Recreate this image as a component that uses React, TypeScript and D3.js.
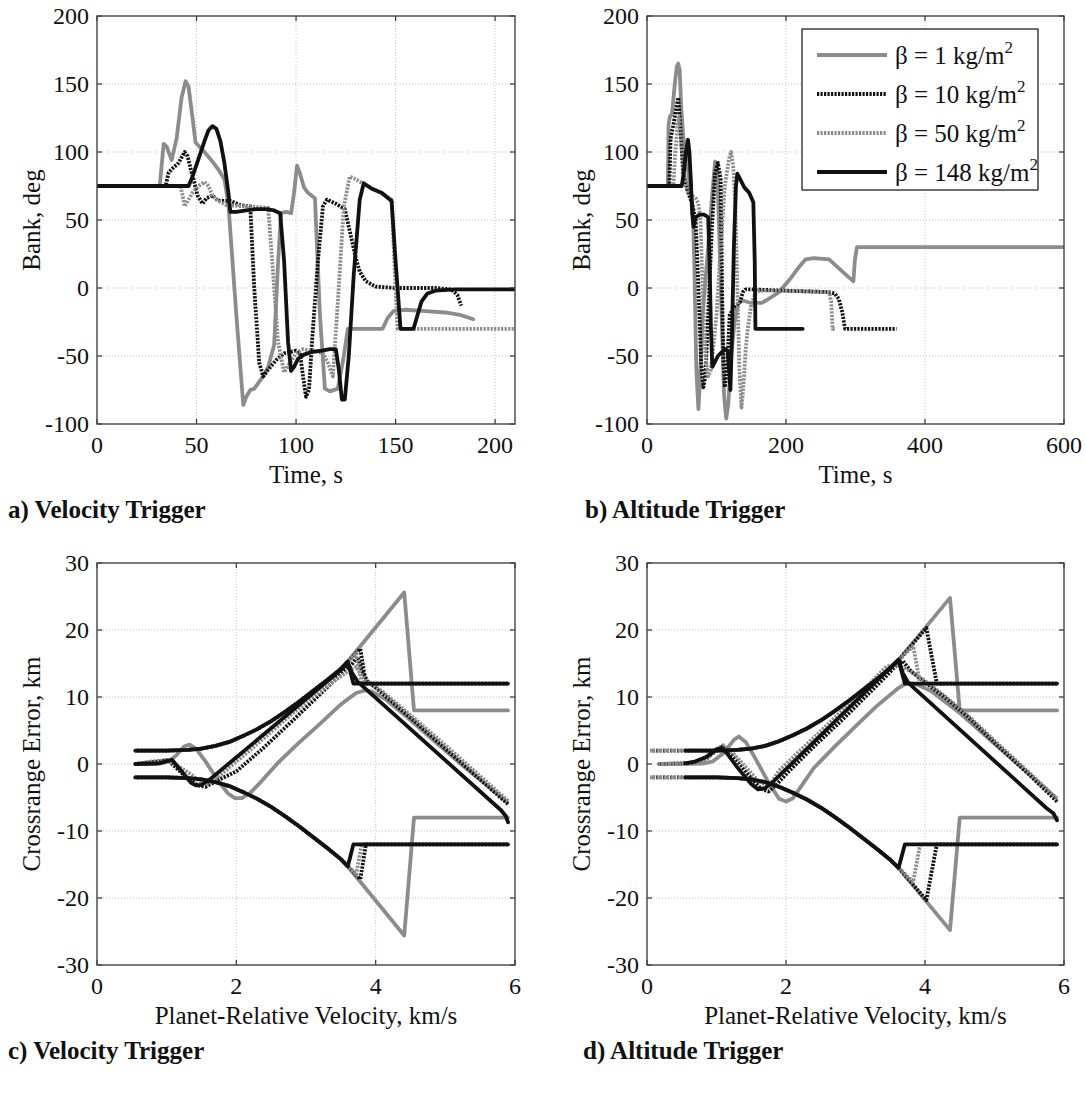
import React from 'react';
import * as d3 from 'd3';

type Pt = [number, number];

// ---------- Bank angle histories, velocity trigger (time s, bank deg) ----------
const velBank1: Pt[] = [[0,75],[31.5,75],[33.5,106],[35,104],[37.5,94],[40,110],[42.5,140],[44.5,152],[46,148],[48,125],[49.5,107],[54,100],[58.5,92],[61,87],[64,80],[66,62],[70,-20],[73.5,-86],[75,-80],[77,-75],[79,-74],[81,-70],[83.5,-65],[86,-58],[89,-42],[91,20],[92.5,55],[95,56],[97.5,55],[99,70],[100.5,90],[102,84],[104,74],[106,70],[109.5,66],[112,-20],[114.5,-74],[117,-76],[121,-74],[124,-50],[126,-30],[143.5,-30],[146,-22],[149,-17],[155,-16],[165,-17],[175,-18],[183,-20],[189,-23]];
const velBank10: Pt[] = [[0,75],[34.5,75],[36,85],[38,88],[41,92],[44,100],[45.5,97],[47,88],[48.5,80],[50.5,68],[53,62],[55,66],[58,68],[61,64],[64,64],[67,64],[72,61],[77,60],[79,0],[81.5,-55],[83.5,-65],[86,-60],[90,-53],[94,-48],[97,-47],[100,-46],[102,-48],[103.5,-65],[105,-80],[106.5,-75],[108,-40],[111,20],[113.5,60],[115.5,65],[120,62],[124.5,58],[126.5,45],[128.5,32],[130,22],[132,12],[135,5],[140,1],[150,0],[170,0],[178,-1],[181,-5],[183,-13]];
const velBank50: Pt[] = [[0,75],[42,75],[43,68],[44,60],[46,65],[48,70],[51,75],[54,78],[56,75],[58,68],[61,64],[65,61],[75,60],[86,59],[88,20],[91,-40],[94,-62],[97,-55],[100,-48],[103.5,-45],[108,-46],[113.5,-48],[116,-55],[118.5,-65],[121,-10],[124,60],[127,82],[130,80],[133.5,77],[140,72],[148,65],[150,0],[151,-30],[210,-30]];
const velBank148: Pt[] = [[0,75],[46,75],[48,82],[51,95],[54,108],[56,116],[58,119],[60,117],[62,108],[64,92],[66,70],[67,56],[70,56],[75,57],[80,58],[85,58],[89,57],[92,55],[94,20],[96,-40],[97.5,-61],[99,-58],[101,-52],[104,-49],[108,-47],[113,-46],[117,-45],[120,-45],[121.5,-60],[123,-82],[124.5,-82],[126.5,-50],[129,10],[132,65],[134,77],[138,73],[143,70],[148,64],[150,20],[152.5,-30],[159,-30],[161,-20],[163,-10],[166,-4],[170,-2],[180,-1],[210,-1]];

// ---------- Bank angle histories, altitude trigger ----------
const altBank1: Pt[] = [[0,75],[30,75],[31,120],[33,126],[36,128],[40,150],[43,163],[45,165],[47,160],[49,135],[52,112],[57,95],[62,75],[66,58],[68,20],[71,-60],[74,-89],[76,-70],[80,-20],[88,30],[94,70],[98,93],[101,88],[104,40],[108,-30],[111,-80],[114,-96],[117,-85],[121,-50],[126,-25],[131,-12],[136,-9],[150,-11],[165,-11],[172,-9],[190,-3],[205,6],[218,15],[228,21],[240,22],[262,21],[275,15],[290,8],[297,5],[299,20],[302,30],[600,30]];
const altBank10: Pt[] = [[0,75],[32,75],[34,110],[38,120],[42,132],[45,140],[48,118],[52,85],[58,72],[65,62],[70,50],[74,0],[78,-55],[81,-73],[84,-65],[88,-20],[93,40],[98,85],[102,92],[106,80],[108,0],[110,-55],[112,-73],[115,-60],[119,-20],[124,-15],[130,-12],[134,-10],[138,-3],[142,-1],[150,-1],[200,-2],[262,-3],[270,-4],[276,-8],[281,-18],[285,-30],[359,-30]];
const altBank50: Pt[] = [[0,75],[38,75],[40,95],[44,120],[46,125],[49,110],[53,85],[58,72],[64,68],[70,66],[74,62],[77,50],[80,0],[84,-50],[88,-65],[92,-60],[96,-40],[100,-20],[106,30],[112,75],[118,95],[121,100],[124,90],[127,60],[130,0],[133,-60],[136,-88],[139,-70],[142,-45],[145,-30],[150,-12],[156,-4],[162,-2],[200,-2],[262,-3],[265,-10],[267,-30],[272,-30]];
const altBank148: Pt[] = [[0,75],[50,75],[53,85],[56,100],[59,109],[61,100],[63,80],[65,55],[67,45],[70,52],[76,54],[82,54],[88,52],[90,20],[92,-30],[94,-58],[97,-55],[102,-50],[108,-47],[113,-45],[116,-46],[118,-60],[120,-75],[122,-40],[125,30],[128,75],[130,84],[134,80],[140,74],[147,70],[153,63],[155,20],[156,-30],[224,-30]];

// ---------- Crossrange vs velocity, velocity trigger (km/s, km) ----------
const velUp1: Pt[] = [[5.9,8],[4.55,8],[4.41,25.6],[3.6,15.3],[3.5,14.2],[3.3,12.5],[3.1,10.9],[2.9,9.3],[2.7,7.8],[2.5,6.4],[2.3,5.2],[2.1,4.2],[1.9,3.3],[1.7,2.7],[1.5,2.3],[1.3,2.1],[1.0,2.0],[0.55,2]];
const velLo1: Pt[] = [[5.9,-8],[4.55,-8],[4.41,-25.6],[3.6,-15.3],[3.5,-14.2],[3.3,-12.5],[3.1,-10.9],[2.9,-9.3],[2.7,-7.8],[2.5,-6.4],[2.3,-5.2],[2.1,-4.2],[1.9,-3.3],[1.7,-2.7],[1.5,-2.3],[1.3,-2.1],[1.0,-2.0],[0.55,-2]];
const velCr1: Pt[] = [[5.88,-5.6],[5.6,-3.2],[5.2,0.2],[4.8,3.8],[4.45,7],[4.15,9.6],[3.95,10.8],[3.85,11],[3.72,10.6],[3.5,8.9],[3.2,6],[2.9,3.2],[2.6,0.2],[2.35,-2.7],[2.2,-4.3],[2.08,-5.1],[1.98,-5.1],[1.88,-4.4],[1.72,-2.2],[1.55,0.5],[1.42,2.3],[1.33,2.9],[1.25,2.6],[1.15,1.4],[1.02,0.3],[0.85,0],[0.55,0]];
const velUp10: Pt[] = [[5.9,12],[3.86,12],[3.78,17.2],[3.6,15.3],[3.5,14.2],[3.3,12.5],[3.1,10.9],[2.9,9.3],[2.7,7.8],[2.5,6.4],[2.3,5.2],[2.1,4.2],[1.9,3.3],[1.7,2.7],[1.5,2.3],[1.3,2.1],[1.0,2.0],[0.55,2]];
const velLo10: Pt[] = [[5.9,-12],[3.86,-12],[3.78,-17.2],[3.6,-15.3],[3.5,-14.2],[3.3,-12.5],[3.1,-10.9],[2.9,-9.3],[2.7,-7.8],[2.5,-6.4],[2.3,-5.2],[2.1,-4.2],[1.9,-3.3],[1.7,-2.7],[1.5,-2.3],[1.3,-2.1],[1.0,-2.0],[0.55,-2]];
const velCr10: Pt[] = [[5.9,-6],[5.5,-2.3],[5.0,2.3],[4.5,6.9],[4.1,10.5],[3.88,12.4],[3.8,14],[3.74,16],[3.66,14.9],[3.5,13.4],[3.2,10.4],[2.8,6.4],[2.4,2.5],[2.0,-1.1],[1.72,-2.5],[1.56,-3.4],[1.45,-3.2],[1.3,-2.2],[1.12,-0.4],[1.02,0.6],[0.9,0.4],[0.55,0]];
const velUp50: Pt[] = [[5.9,12],[3.8,12],[3.72,16.5],[3.6,15.3],[3.5,14.2],[3.3,12.5],[3.1,10.9],[2.9,9.3],[2.7,7.8],[2.5,6.4],[2.3,5.2],[2.1,4.2],[1.9,3.3],[1.7,2.7],[1.5,2.3],[1.3,2.1],[1.0,2.0],[0.55,2]];
const velLo50: Pt[] = [[5.9,-12],[3.8,-12],[3.72,-16.5],[3.6,-15.3],[3.5,-14.2],[3.3,-12.5],[3.1,-10.9],[2.9,-9.3],[2.7,-7.8],[2.5,-6.4],[2.3,-5.2],[2.1,-4.2],[1.9,-3.3],[1.7,-2.7],[1.5,-2.3],[1.3,-2.1],[1.0,-2.0],[0.55,-2]];
const velCr50: Pt[] = [[5.9,-5.5],[5.5,-1.8],[5.0,2.8],[4.5,7.3],[4.1,10.8],[3.85,12.5],[3.72,14.5],[3.6,13.8],[3.3,11.6],[3.0,9.2],[2.6,5.7],[2.2,2.1],[1.9,-0.5],[1.7,-2.3],[1.58,-3.0],[1.48,-2.6],[1.3,-1.2],[1.15,-0.2],[1.0,0.6],[0.8,0.4],[0.55,0]];
const velUp148: Pt[] = [[5.9,12],[3.68,12],[3.6,15.3],[3.5,14.2],[3.3,12.5],[3.1,10.9],[2.9,9.3],[2.7,7.8],[2.5,6.4],[2.3,5.2],[2.1,4.2],[1.9,3.3],[1.7,2.7],[1.5,2.3],[1.3,2.1],[1.0,2.0],[0.55,2]];
const velLo148: Pt[] = [[5.9,-12],[3.68,-12],[3.6,-15.3],[3.5,-14.2],[3.3,-12.5],[3.1,-10.9],[2.9,-9.3],[2.7,-7.8],[2.5,-6.4],[2.3,-5.2],[2.1,-4.2],[1.9,-3.3],[1.7,-2.7],[1.5,-2.3],[1.3,-2.1],[1.0,-2.0],[0.55,-2]];
const velCr148: Pt[] = [[5.9,-8.7],[5.87,-7.8],[5.8,-6.9],[3.74,12.3],[3.66,13.6],[3.6,15.1],[3.52,14.2],[1.62,-2.3],[1.5,-3.1],[1.42,-3.2],[1.35,-2.8],[1.08,0.6],[1.02,0.5],[0.9,0.1],[0.55,0]];

// ---------- Crossrange vs velocity, altitude trigger ----------
const altUp1: Pt[] = [[5.9,8],[4.5,8],[4.36,24.8],[3.62,15.5],[3.5,14.3],[3.3,12.6],[3.1,11],[2.9,9.4],[2.7,7.9],[2.5,6.5],[2.3,5.3],[2.1,4.3],[1.9,3.4],[1.7,2.7],[1.5,2.3],[1.3,2.1],[1.0,2.0],[0.55,2]];
const altLo1: Pt[] = [[5.9,-8],[4.5,-8],[4.36,-24.8],[3.62,-15.5],[3.5,-14.3],[3.3,-12.6],[3.1,-11],[2.9,-9.4],[2.7,-7.9],[2.5,-6.5],[2.3,-5.3],[2.1,-4.3],[1.9,-3.4],[1.7,-2.7],[1.5,-2.3],[1.3,-2.1],[1.0,-2.0],[0.55,-2]];
const altCr1: Pt[] = [[5.88,-5],[5.5,-1.5],[5.0,3],[4.5,7.6],[4.1,10.8],[3.88,11.9],[3.74,12.1],[3.6,11.2],[3.3,8.6],[3.0,5.6],[2.7,2.6],[2.4,-0.6],[2.2,-3.6],[2.1,-5.1],[2.0,-5.6],[1.9,-5.2],[1.75,-2.8],[1.55,1],[1.42,3.3],[1.32,4.1],[1.25,3.6],[1.1,1.6],[0.95,0.4],[0.8,0.05],[0.17,0]];
const altUp10: Pt[] = [[5.9,12],[4.17,12],[4.02,20.3],[3.62,15.5],[3.5,14.3],[3.3,12.6],[3.1,11],[2.9,9.4],[2.7,7.9],[2.5,6.5],[2.3,5.3],[2.1,4.3],[1.9,3.4],[1.7,2.7],[1.5,2.3],[1.3,2.1],[1.0,2.0],[0.05,2]];
const altLo10: Pt[] = [[5.9,-12],[4.17,-12],[4.02,-20.3],[3.62,-15.5],[3.5,-14.3],[3.3,-12.6],[3.1,-11],[2.9,-9.4],[2.7,-7.9],[2.5,-6.5],[2.3,-5.3],[2.1,-4.3],[1.9,-3.4],[1.7,-2.7],[1.5,-2.3],[1.3,-2.1],[1.0,-2.0],[0.05,-2]];
const altCr10: Pt[] = [[5.9,-5.6],[5.5,-1.6],[5.0,3.2],[4.6,7.2],[4.3,9.8],[4.0,12.2],[3.8,13.8],[3.68,15.4],[3.6,14.9],[3.45,13.2],[3.2,10.6],[2.8,6.5],[2.4,2.6],[2.05,-1],[1.85,-3.2],[1.75,-4.1],[1.64,-3.7],[1.45,-1.5],[1.3,0.5],[1.15,2.2],[1.08,2.6],[1.0,2.0],[0.85,0.8],[0.65,0.15],[0.17,0]];
const altUp50: Pt[] = [[5.9,12],[3.93,12],[3.83,17.6],[3.62,15.5],[3.5,14.3],[3.3,12.6],[3.1,11],[2.9,9.4],[2.7,7.9],[2.5,6.5],[2.3,5.3],[2.1,4.3],[1.9,3.4],[1.7,2.7],[1.5,2.3],[1.3,2.1],[1.0,2.0],[0.05,2]];
const altLo50: Pt[] = [[5.9,-12],[3.93,-12],[3.83,-17.6],[3.62,-15.5],[3.5,-14.3],[3.3,-12.6],[3.1,-11],[2.9,-9.4],[2.7,-7.9],[2.5,-6.5],[2.3,-5.3],[2.1,-4.3],[1.9,-3.4],[1.7,-2.7],[1.5,-2.3],[1.3,-2.1],[1.0,-2.0],[0.05,-2]];
const altCr50: Pt[] = [[5.9,-5.2],[5.5,-1.3],[5.0,3.5],[4.6,7.4],[4.3,10],[4.0,12.4],[3.8,13.8],[3.6,14.8],[3.45,14.6],[3.3,13],[3.0,10],[2.6,5.9],[2.2,2],[1.9,-1],[1.8,-2.6],[1.72,-3.2],[1.6,-2.5],[1.45,-0.8],[1.25,1.5],[1.1,2.8],[1.0,2.2],[0.85,0.6],[0.6,0],[0.17,0]];
const altUp148: Pt[] = [[5.9,12],[3.71,12],[3.62,15.5],[3.5,14.3],[3.3,12.6],[3.1,11],[2.9,9.4],[2.7,7.9],[2.5,6.5],[2.3,5.3],[2.1,4.3],[1.9,3.4],[1.7,2.7],[1.5,2.3],[1.3,2.1],[1.0,2.0],[0.55,2]];
const altLo148: Pt[] = [[5.9,-12],[3.71,-12],[3.62,-15.5],[3.5,-14.3],[3.3,-12.6],[3.1,-11],[2.9,-9.4],[2.7,-7.9],[2.5,-6.5],[2.3,-5.3],[2.1,-4.3],[1.9,-3.4],[1.7,-2.7],[1.5,-2.3],[1.3,-2.1],[1.0,-2.0],[0.55,-2]];
const altCr148: Pt[] = [[5.9,-8.4],[5.85,-7.4],[5.75,-6.6],[3.76,12.1],[3.68,13.6],[3.62,15.6],[3.5,14.4],[1.8,-2.8],[1.7,-3.6],[1.6,-3.8],[1.5,-3.0],[1.3,-0.5],[1.15,1.6],[1.08,2.4],[1.0,2.2],[0.86,1.1],[0.7,0.4],[0.55,0.1]];

// ---------- Axes ticks and labels ----------
const bankTicks = [-100, -50, 0, 50, 100, 150, 200];
const velTimeTicks = [0, 50, 100, 150, 200];
const altTimeTicks = [0, 200, 400, 600];
const speedTicks = [0, 2, 4, 6];
const crossTicks = [-30, -20, -10, 0, 10, 20, 30];
const betaLabels = ['1', '10', '50', '148'];
const captions = ['a) Velocity Trigger', 'b) Altitude Trigger', 'c) Velocity Trigger', 'd) Altitude Trigger'];

const FONT = "'Liberation Serif', 'Times New Roman', Times, serif";
const GRAY = '#8c8c8c';
const BLACK = '#111111';
const DOTS = '2.2,1.3';
const LW = 3.8;

const styles = [
  { stroke: GRAY, dash: undefined as string | undefined },
  { stroke: BLACK, dash: DOTS },
  { stroke: GRAY, dash: DOTS },
  { stroke: BLACK, dash: undefined as string | undefined },
];

type Box = { left: number; top: number; right: number; bottom: number };
type Series = { data: Pt[]; style: number };

function Panel(props: {
  id: string;
  box: Box;
  xDomain: [number, number];
  yDomain: [number, number];
  xTicks: number[];
  yTicks: number[];
  xLabel: string;
  yLabel: string;
  series: Series[];
  legend?: boolean;
}) {
  const { id, box, xDomain, yDomain, xTicks, yTicks, xLabel, yLabel, series, legend } = props;
  const x = d3.scaleLinear().domain(xDomain).range([box.left, box.right]);
  const y = d3.scaleLinear().domain(yDomain).range([box.bottom, box.top]);
  const line = d3.line<Pt>().x(d => x(d[0])).y(d => y(d[1]));
  const tk = 5;
  const midX = (box.left + box.right) / 2;
  const midY = (box.top + box.bottom) / 2;
  return (
    <g>
      <defs>
        <clipPath id={id}>
          <rect x={box.left} y={box.top} width={box.right - box.left} height={box.bottom - box.top} />
        </clipPath>
      </defs>
      {xTicks.filter(t => t > xDomain[0] && t < xDomain[1]).map(t => (
        <line key={'gx' + t} x1={x(t)} x2={x(t)} y1={box.top} y2={box.bottom} stroke="#c4c4c4" strokeWidth={1} strokeDasharray="1,2" />
      ))}
      {yTicks.filter(t => t > yDomain[0] && t < yDomain[1]).map(t => (
        <line key={'gy' + t} x1={box.left} x2={box.right} y1={y(t)} y2={y(t)} stroke="#c4c4c4" strokeWidth={1} strokeDasharray="1,2" />
      ))}
      <g clipPath={`url(#${id})`}>
        {series.map((s, i) => (
          <path key={i} d={line(s.data) || ''} fill="none" stroke={styles[s.style].stroke}
            strokeWidth={LW} strokeDasharray={styles[s.style].dash} strokeLinejoin="round"
            strokeLinecap={styles[s.style].dash ? 'butt' : 'round'} />
        ))}
      </g>
      {xTicks.map(t => (
        <g key={'tx' + t}>
          <line x1={x(t)} x2={x(t)} y1={box.bottom} y2={box.bottom - tk} stroke="#333" strokeWidth={1.2} />
          <line x1={x(t)} x2={x(t)} y1={box.top} y2={box.top + tk} stroke="#333" strokeWidth={1.2} />
          <text x={x(t)} y={box.bottom + 29} textAnchor="middle" fontFamily={FONT} fontSize={24} fill="#111">{t}</text>
        </g>
      ))}
      {yTicks.map(t => (
        <g key={'ty' + t}>
          <line x1={box.left} x2={box.left + tk} y1={y(t)} y2={y(t)} stroke="#333" strokeWidth={1.2} />
          <line x1={box.right} x2={box.right - tk} y1={y(t)} y2={y(t)} stroke="#333" strokeWidth={1.2} />
          <text x={box.left - 8} y={y(t) + 8} textAnchor="end" fontFamily={FONT} fontSize={24} fill="#111">{t}</text>
        </g>
      ))}
      <rect x={box.left} y={box.top} width={box.right - box.left} height={box.bottom - box.top} fill="none" stroke="#444" strokeWidth={1.4} />
      <text x={midX} y={box.bottom + 59} textAnchor="middle" fontFamily={FONT} fontSize={25} fill="#111">{xLabel}</text>
      <text transform={`translate(${box.left - 57},${midY}) rotate(-90)`} textAnchor="middle" fontFamily={FONT} fontSize={25} fill="#111">{yLabel}</text>
      {legend && (
        <g>
          <rect x={802} y={29} width={236} height={161} fill="#fff" stroke="#333" strokeWidth={1.4} />
          {betaLabels.map((b, i) => {
            const ly = 55 + i * 39;
            return (
              <g key={'lg' + b}>
                <line x1={817} x2={887} y1={ly} y2={ly} stroke={styles[i].stroke} strokeWidth={LW} strokeDasharray={styles[i].dash} />
                <text x={895} y={ly + 9} fontFamily={FONT} fontSize={25} fill="#111">
                  {`\u03B2 = ${b} kg/m`}
                  <tspan dy={-11} fontSize={17}>2</tspan>
                </text>
              </g>
            );
          })}
        </g>
      )}
    </g>
  );
}

export default function App() {
  const boxA: Box = { left: 97, top: 16, right: 515, bottom: 424 };
  const boxB: Box = { left: 647, top: 16, right: 1064, bottom: 424 };
  const boxC: Box = { left: 97, top: 563, right: 515, bottom: 965 };
  const boxD: Box = { left: 647, top: 563, right: 1064, bottom: 965 };

  const seriesA: Series[] = [velBank1, velBank10, velBank50, velBank148].map((d, i) => ({ data: d, style: i }));
  const seriesB: Series[] = [altBank1, altBank10, altBank50, altBank148].map((d, i) => ({ data: d, style: i }));
  const seriesC: Series[] = [
    [velUp1, velLo1, velCr1],
    [velUp10, velLo10, velCr10],
    [velUp50, velLo50, velCr50],
    [velUp148, velLo148, velCr148],
  ].flatMap((g, i) => g.map(d => ({ data: d, style: i })));
  const seriesD: Series[] = [
    [altUp1, altLo1, altCr1],
    [altUp10, altLo10, altCr10],
    [altUp50, altLo50, altCr50],
    [altUp148, altLo148, altCr148],
  ].flatMap((g, i) => g.map(d => ({ data: d, style: i })));

  const capStyle = { fontFamily: FONT, fontSize: 25, fontWeight: 700 as const, fill: '#111' };

  return (
    <svg width={1086} height={1099} viewBox="0 0 1086 1099"
      style={{ position: 'absolute', left: 0, top: 0, background: '#fff' }}>
      <rect x={0} y={0} width={1086} height={1099} fill="#fff" />
      <Panel id="clipA" box={boxA} xDomain={[0, 210]} yDomain={[-100, 200]} xTicks={velTimeTicks} yTicks={bankTicks}
        xLabel="Time, s" yLabel="Bank, deg" series={seriesA} />
      <Panel id="clipB" box={boxB} xDomain={[0, 600]} yDomain={[-100, 200]} xTicks={altTimeTicks} yTicks={bankTicks}
        xLabel="Time, s" yLabel="Bank, deg" series={seriesB} legend />
      <Panel id="clipC" box={boxC} xDomain={[0, 6]} yDomain={[-30, 30]} xTicks={speedTicks} yTicks={crossTicks}
        xLabel="Planet-Relative Velocity, km/s" yLabel="Crossrange Error, km" series={seriesC} />
      <Panel id="clipD" box={boxD} xDomain={[0, 6]} yDomain={[-30, 30]} xTicks={speedTicks} yTicks={crossTicks}
        xLabel="Planet-Relative Velocity, km/s" yLabel="Crossrange Error, km" series={seriesD} />
      <text x={8} y={518} {...capStyle}>{captions[0]}</text>
      <text x={585} y={518} {...capStyle}>{captions[1]}</text>
      <text x={8} y={1059} {...capStyle}>{captions[2]}</text>
      <text x={583} y={1059} {...capStyle}>{captions[3]}</text>
    </svg>
  );
}
